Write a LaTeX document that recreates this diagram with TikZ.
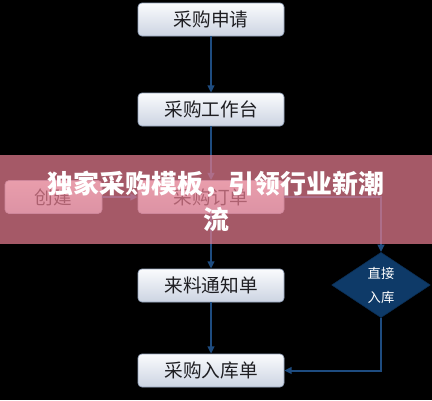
\documentclass[tikz,border=0pt]{standalone}
\usepackage{fontspec}
\newfontfamily\cjk{Noto Sans CJK SC}
\newfontfamily\cjkb{Noto Sans CJK SC Black}
\usetikzlibrary{arrows.meta,shapes.geometric,positioning}
\definecolor{linec}{RGB}{30,76,128}
\definecolor{diamc}{RGB}{14,58,104}
\definecolor{boxtop}{RGB}{250,251,253}
\definecolor{boxbot}{RGB}{204,212,226}
\definecolor{boxline}{RGB}{150,165,190}
\definecolor{bannerc}{RGB}{227,123,142}
\definecolor{txtc}{RGB}{30,30,34}
\begin{document}
\begin{tikzpicture}[x=0.75pt,y=-0.75pt,
  flowbox/.style={draw=boxline,line width=0.5pt,rounded corners=3pt,top color=boxtop,bottom color=boxbot,
    minimum width=109.5pt,minimum height=24.75pt,inner sep=0pt,font=\cjk\fontsize{14}{16}\selectfont,text=txtc},
  smallbox/.style={flowbox,minimum width=72.75pt},
  conn/.style={draw=linec,line width=1.5pt,-{Triangle[length=5.5pt,width=5pt]}},
  decision/.style={diamond,aspect=1.6,fill=diamc,draw=diamc!80!black,minimum width=74pt,minimum height=49pt,inner sep=0pt,
    font=\cjk\fontsize{10}{18}\selectfont,text=white,align=center}]
\fill[black] (0,0) rectangle (432,400);
\useasboundingbox (0,0) rectangle (432,400);
\node[flowbox] (sq) at (211,19.5) {采购申请};
\node[flowbox] (gzt) at (211,109.5) {采购工作台};
\node[flowbox] (dd) at (211,197) {采购订单};
\node[smallbox] (cj) at (53.5,197) {创建};
\node[flowbox] (ll) at (211,285.5) {来料通知单};
\node[flowbox] (rk) at (211,370.5) {采购入库单};
\node[decision] (zj) at (381,285) {直接\\入库};
\draw[conn] (sq) -- (gzt);
\draw[conn] (gzt) -- (dd);
\draw[conn] (cj) -- (dd);
\draw[conn] (dd) -- (ll);
\draw[conn] (ll) -- (rk);
\draw[conn] (dd.east) -| (zj.north);
\draw[conn] (zj.south) |- (rk.east);
\fill[bannerc,opacity=0.73] (0,155) rectangle (432,244);
\node[font=\cjkb\fontsize{19.4}{27}\selectfont,text=white,align=center] (title) at (216,201) {独家采购模板，引领行业新潮\\流};
\end{tikzpicture}
\end{document}
